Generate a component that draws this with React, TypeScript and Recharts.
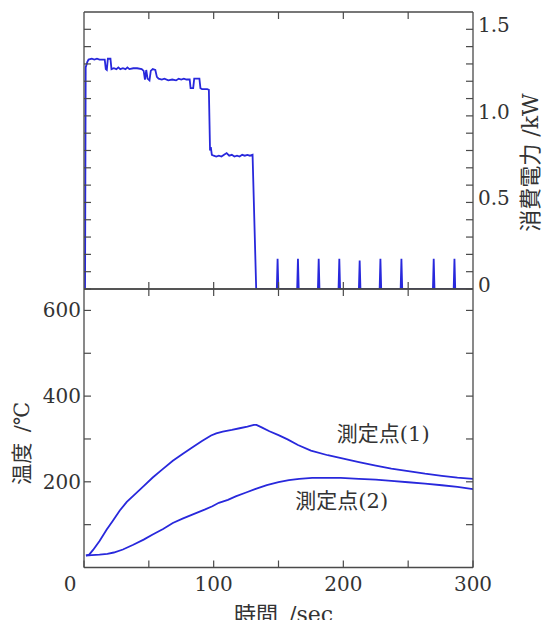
import React from 'react';
import { LineChart, Line, XAxis, YAxis, Label, ReferenceDot } from 'recharts';

// ---- power (top panel) ----
const powerTime = [
  0, 0.8, 1.3, 2.5, 3.5, 6, 8, 10, 12, 16, 16.8, 17.6, 18.4, 20.4, 21.2, 23, 25, 26.5, 28, 30,
  32, 33.5, 35, 38, 41, 44.5, 46, 47, 48, 49, 50.5, 51.5, 53, 55, 56.2, 57.5, 60, 62, 65, 68,
  71, 73, 75, 77, 79, 81.5, 82.2, 84.2, 85, 89, 89.8, 91, 95, 96.3, 97.2, 97.8, 98.6, 100, 102, 104,
  106, 108, 110, 112, 114, 116, 118, 120, 122, 124, 126, 128, 130, 132.8,
  148.7, 149.3, 149.9, 164.4, 165, 165.6, 180.4, 181, 181.6, 196.3, 196.9, 197.5,
  212, 212.6, 213.2, 228, 228.6, 229.2, 244.2, 244.8, 245.4, 269.1, 269.7, 270.3,
  285.1, 285.7, 286.3, 300,
];
const powerKW = [
  0, 0, 1.28, 1.31, 1.325, 1.33, 1.325, 1.33, 1.325, 1.325, 1.27, 1.265, 1.33, 1.33, 1.27, 1.275, 1.27, 1.28, 1.27, 1.275,
  1.27, 1.28, 1.27, 1.275, 1.275, 1.27, 1.26, 1.21, 1.265, 1.215, 1.205, 1.26, 1.27, 1.265, 1.225, 1.215, 1.21, 1.215, 1.205, 1.21,
  1.205, 1.215, 1.21, 1.215, 1.21, 1.21, 1.16, 1.16, 1.215, 1.215, 1.16, 1.155, 1.155, 1.15, 0.8, 0.82, 0.775, 0.77, 0.765, 0.77,
  0.765, 0.775, 0.785, 0.77, 0.775, 0.765, 0.77, 0.765, 0.775, 0.77, 0.775, 0.77, 0.775, 0,
  0, 0.175, 0, 0, 0.175, 0, 0, 0.175, 0, 0, 0.175, 0,
  0, 0.165, 0, 0, 0.175, 0, 0, 0.175, 0, 0, 0.175, 0,
  0, 0.175, 0, 0,
];

// ---- temperature (bottom panel) ----
const temp1Time = [
  1.5, 4, 7, 12, 17.4, 22, 27.6, 33, 39, 46, 53, 60, 68.5, 76, 84, 91, 98, 102, 107, 114,
  120, 126, 131, 133, 137, 143, 150, 157, 165, 175, 188, 200, 212, 225, 237, 250, 263, 276, 288, 300,
];
const temp1 = [
  28, 30, 41, 62, 88, 108, 133, 153, 170, 190, 210, 228, 249, 265, 281, 295, 308, 313, 317, 321,
  325, 329, 333, 333, 327, 318, 309, 299, 286, 273, 262, 254, 246, 238, 231, 225, 219, 214, 210, 207,
];
const temp2Time = [
  1.5, 6, 12, 18, 23, 30, 38, 46, 53, 61, 68.5, 76, 84, 93, 99, 104, 111, 117, 125, 133,
  141, 150, 158, 166, 176, 186, 198, 212, 225, 237, 250, 263, 276, 288, 300,
];
const temp2 = [
  28, 29, 30, 32, 35, 42, 53, 65, 77, 90, 104, 114, 124, 135, 143, 151, 158, 166, 175, 184,
  192, 199, 204, 207, 209, 209, 209, 207, 205, 202, 199, 196, 192, 188, 183,
];

// ---- ticks & labels ----
const powerTicks = [0, 0.1, 0.2, 0.3, 0.4, 0.5, 0.6, 0.7, 0.8, 0.9, 1.0, 1.1, 1.2, 1.3, 1.4, 1.5];
const powerLabelValues = [0, 0.5, 1.0, 1.5];
const powerLabelTexts = ['0', '0.5', '1.0', '1.5'];
const tempTicks = [100, 200, 300, 400, 500, 600];
const tempLabelValues = [200, 400, 600];
const tempLabelTexts = ['200', '400', '600'];
const timeMinorTicks = [50, 100, 150, 200, 250];
const timeTicks = [0, 50, 100, 150, 200, 250, 300];
const timeLabelValues = [0, 100, 200, 300];
const timeLabelTexts = ['0', '100', '200', '300'];
const seriesNames = ['測定点(1)', '測定点(2)'];
const powerTitle = '消費電力 /kW';
const tempTitle = '温度\u2002/℃';
const timeTitle = '時間\u2002/sec';

const powerData = powerTime.map((t, i) => ({ t, p: powerKW[i] }));
const temp1Data = temp1Time.map((t, i) => ({ t, v: temp1[i] }));
const temp2Data = temp2Time.map((t, i) => ({ t, v: temp2[i] }));

const BLUE = '#2828dc';
const FRAME = '#4a4a4a';
const TEXT = '#333';
const NUM_FONT = '"DejaVu Serif", "Noto Sans CJK JP", serif';
const CJK_FONT = '"DejaVu Serif", "Noto Sans CJK JP", serif';
const TICK_LEN = 7;

type Side = 'left' | 'right' | 'top' | 'bottom';

function findLabel(v: number, values: number[], texts: string[]): string | null {
  for (let i = 0; i < values.length; i++) {
    if (Math.abs(values[i] - v) < 1e-6) return texts[i];
  }
  return null;
}

function makeTick(side: Side, values?: number[], texts?: string[]) {
  return (props: any) => {
    const { x, y, payload } = props;
    const v = payload.value;
    let x2 = x;
    let y2 = y;
    if (side === 'left') x2 = x + TICK_LEN;
    if (side === 'right') x2 = x - TICK_LEN;
    if (side === 'top') y2 = y + TICK_LEN;
    if (side === 'bottom') y2 = y - TICK_LEN;
    const label = values && texts ? findLabel(v, values, texts) : null;
    let text: any = null;
    if (label !== null) {
      const common = { fill: TEXT, fontSize: 20, fontFamily: NUM_FONT };
      if (side === 'right') {
        text = <text x={x + 5} y={y + 3} textAnchor="start" {...common}>{label}</text>;
      } else if (side === 'left') {
        text = <text x={x - 3} y={y + 7} textAnchor="end" {...common}>{label}</text>;
      } else if (side === 'bottom') {
        text = <text x={v === 0 ? x - 14 : x} y={y + 23} textAnchor="middle" {...common}>{label}</text>;
      }
    }
    return (
      <g>
        <line x1={x} y1={y} x2={x2} y2={y2} stroke={FRAME} strokeWidth={1.2} />
        {text}
      </g>
    );
  };
}

const axisLine = { stroke: FRAME, strokeWidth: 1.3 };

function App() {
  return (
    <div style={{ position: 'absolute', left: 0, top: 0, width: 544, height: 620, background: '#fff' }}>
      <div style={{ position: 'absolute', left: 0, top: 0 }}>
        <LineChart width={544} height={300} data={powerData} margin={{ top: 11, right: 70, bottom: 10, left: 83 }}>
          <XAxis xAxisId="b" dataKey="t" type="number" domain={[0, 300]} allowDataOverflow ticks={timeMinorTicks}
            interval={0} height={1} orientation="bottom" axisLine={axisLine} tickLine={false} tickSize={0} tickMargin={0}
            tick={makeTick('bottom')} />
          <XAxis xAxisId="t" dataKey="t" type="number" domain={[0, 300]} allowDataOverflow ticks={timeMinorTicks}
            interval={0} height={1} orientation="top" axisLine={axisLine} tickLine={false} tickSize={0} tickMargin={0}
            tick={makeTick('top')} />
          <YAxis yAxisId="l" type="number" domain={[0, 1.6]} allowDataOverflow ticks={powerTicks} interval={0}
            width={1} orientation="left" axisLine={axisLine} tickLine={false} tickSize={0} tickMargin={0}
            tick={makeTick('left')} />
          <YAxis yAxisId="r" type="number" domain={[0, 1.6]} allowDataOverflow ticks={powerTicks} interval={0}
            width={1} orientation="right" axisLine={axisLine} tickLine={false} tickSize={0} tickMargin={0}
            tick={makeTick('right', powerLabelValues, powerLabelTexts)}>
            <Label content={(p: any) => {
              const vb = p.viewBox || { x: 473, y: 12, height: 277 };
              const cx = vb.x + 57;
              const cy = vb.y + vb.height / 2 + 12;
              return (
                <text x={cx} y={cy} transform={`rotate(-90 ${cx} ${cy})`} textAnchor="middle" dominantBaseline="central"
                  fill={TEXT} fontSize={22} fontFamily={CJK_FONT}>{powerTitle}</text>
              );
            }} />
          </YAxis>
          <Line xAxisId="b" yAxisId="r" dataKey="p" type="linear" stroke={BLUE} strokeWidth={1.8} dot={false}
            isAnimationActive={false} />
        </LineChart>
      </div>
      <div style={{ position: 'absolute', left: 0, top: 288 }}>
        <LineChart width={544} height={332} margin={{ top: 0, right: 70, bottom: 51.5, left: 83 }}>
          <XAxis xAxisId="b" dataKey="t" type="number" domain={[0, 300]} allowDataOverflow ticks={timeTicks}
            interval={0} height={1} orientation="bottom" axisLine={axisLine} tickLine={false} tickSize={0} tickMargin={0}
            tick={makeTick('bottom', timeLabelValues, timeLabelTexts)}>
            <Label content={(p: any) => {
              const vb = p.viewBox || { x: 84, y: 279.5, width: 389 };
              const cx = vb.x + vb.width / 2 + 5;
              const cy = vb.y + 54;
              return (
                <text x={cx} y={cy} textAnchor="middle" fill={TEXT} fontSize={22} fontFamily={CJK_FONT}>{timeTitle}</text>
              );
            }} />
          </XAxis>
          <XAxis xAxisId="t" dataKey="t" type="number" domain={[0, 300]} allowDataOverflow ticks={timeMinorTicks}
            interval={0} height={1} orientation="top" axisLine={axisLine} tickLine={false} tickSize={0} tickMargin={0}
            tick={makeTick('top')} />
          <YAxis yAxisId="l" type="number" domain={[0, 650]} allowDataOverflow ticks={tempTicks} interval={0}
            width={1} orientation="left" axisLine={axisLine} tickLine={false} tickSize={0} tickMargin={0}
            tick={makeTick('left', tempLabelValues, tempLabelTexts)}>
            <Label content={(p: any) => {
              const vb = p.viewBox || { x: 83, y: 1, height: 278.5 };
              const cx = vb.x - 61;
              const cy = vb.y + vb.height / 2 + 15;
              return (
                <text x={cx} y={cy} transform={`rotate(-90 ${cx} ${cy})`} textAnchor="middle" dominantBaseline="central"
                  fill={TEXT} fontSize={21} fontFamily={CJK_FONT}>{tempTitle}</text>
              );
            }} />
          </YAxis>
          <YAxis yAxisId="r" type="number" domain={[0, 650]} allowDataOverflow ticks={tempTicks} interval={0}
            width={1} orientation="right" axisLine={axisLine} tickLine={false} tickSize={0} tickMargin={0}
            tick={makeTick('right')} />
          <Line xAxisId="b" yAxisId="l" data={temp1Data} dataKey="v" name={seriesNames[0]} type="linear" stroke={BLUE}
            strokeWidth={1.8} dot={false} isAnimationActive={false} />
          <Line xAxisId="b" yAxisId="l" data={temp2Data} dataKey="v" name={seriesNames[1]} type="linear" stroke={BLUE}
            strokeWidth={1.8} dot={false} isAnimationActive={false} />
          <ReferenceDot xAxisId="b" yAxisId="l" x={195} y={312} r={0} stroke="none" fill="none"
            label={(p: any) => {
              const vb = p.viewBox || { x: 0, y: 0 };
              return <text x={vb.x} y={vb.y} textAnchor="start" dominantBaseline="central" fill={TEXT}
                fontSize={21} fontFamily={CJK_FONT}>{seriesNames[0]}</text>;
            }} />
          <ReferenceDot xAxisId="b" yAxisId="l" x={163} y={155} r={0} stroke="none" fill="none"
            label={(p: any) => {
              const vb = p.viewBox || { x: 0, y: 0 };
              return <text x={vb.x} y={vb.y} textAnchor="start" dominantBaseline="central" fill={TEXT}
                fontSize={21} fontFamily={CJK_FONT}>{seriesNames[1]}</text>;
            }} />
        </LineChart>
      </div>
    </div>
  );
}

export default App;
